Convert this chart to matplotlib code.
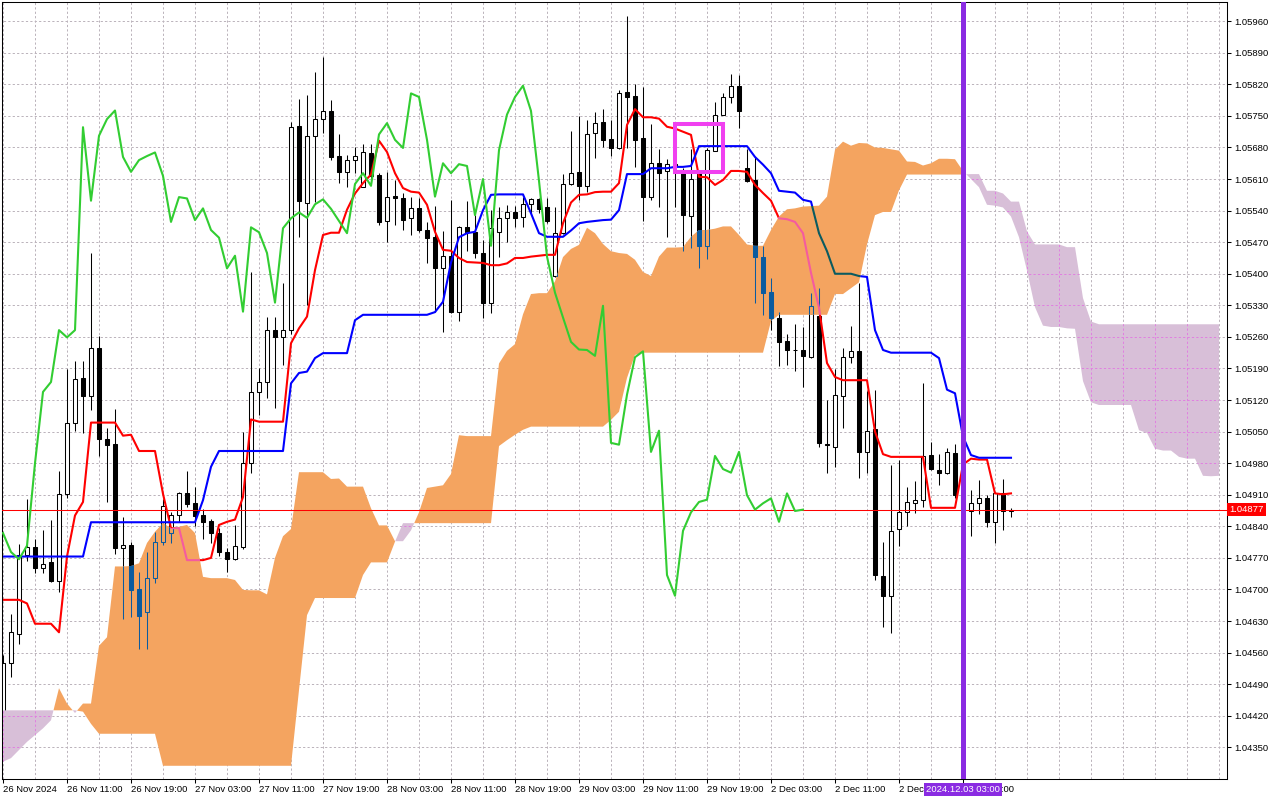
import numpy as np
import matplotlib
matplotlib.use('Agg')
import matplotlib.pyplot as plt
from matplotlib.path import Path
from matplotlib.patches import Rectangle
from matplotlib.transforms import blended_transform_factory

plt.rcParams['font.family'] = ['Liberation Sans', 'DejaVu Sans']

# ============================================================
# EURUSD H1, 26 Nov 2024 03:00 .. 3 Dec 2024 09:00 (one entry per bar)
# ============================================================
opens = [
    1.04347, 1.04538, 1.04601, 1.04777, 1.04794, 1.04747, 1.04760, 1.04718, 1.04911, 1.05069,
    1.05169, 1.05130, 1.05236, 1.05033, 1.05023, 1.04793, 1.04799, 1.04701, 1.04649, 1.04725,
    1.04805, 1.04825, 1.04865, 1.04913, 1.04891, 1.04865, 1.04852, 1.04825, 1.04783, 1.04767,
    1.04795, 1.04980, 1.05138, 1.05160, 1.05275, 1.05259, 1.05276, 1.05728, 1.05557, 1.05706,
    1.05743, 1.05762, 1.05661, 1.05626, 1.05652, 1.05593, 1.05667, 1.05619, 1.05517, 1.05573,
    1.05568, 1.05523, 1.05545, 1.05498, 1.05481, 1.05412, 1.05440, 1.05316, 1.05503, 1.05493,
    1.05446, 1.05336, 1.05492, 1.05523, 1.05536, 1.05526, 1.05554, 1.05565, 1.05548, 1.05395,
    1.05490, 1.05598, 1.05625, 1.05595, 1.05713, 1.05736, 1.05699, 1.05679, 1.05803, 1.05794,
    1.05702, 1.05571, 1.05645, 1.05628, 1.05643, 1.05630, 1.05528, 1.05623, 1.05462, 1.05673,
    1.05753, 1.05792, 1.05817, 1.05634, 1.05608, 1.05438, 1.05359, 1.05302, 1.05251, 1.05232,
    1.05232, 1.05216, 1.05307, 1.05023, 1.05016, 1.05129, 1.05215, 1.05228, 1.05005, 1.05055,
    1.04730, 1.04686, 1.04833, 1.04872, 1.04892, 1.04899, 1.04998, 1.04965, 1.04959, 1.05002,
    1.04909, 1.04874, 1.04891, 1.04902, 1.04850, 1.04913, 1.04874,
]
closes = [
    1.04538, 1.04605, 1.04777, 1.04794, 1.04747, 1.04757, 1.04718, 1.04911, 1.05069, 1.05167,
    1.05128, 1.05236, 1.05033, 1.05020, 1.04793, 1.04798, 1.04699, 1.04641, 1.04725, 1.04806,
    1.04885, 1.04865, 1.04913, 1.04889, 1.04863, 1.04850, 1.04825, 1.04783, 1.04767, 1.04797,
    1.04980, 1.05138, 1.05160, 1.05275, 1.05259, 1.05275, 1.05725, 1.05562, 1.05706, 1.05743,
    1.05762, 1.05659, 1.05626, 1.05652, 1.05661, 1.05669, 1.05617, 1.05515, 1.05570, 1.05567,
    1.05519, 1.05545, 1.05497, 1.05480, 1.05412, 1.05440, 1.05316, 1.05503, 1.05492, 1.05446,
    1.05336, 1.05501, 1.05523, 1.05536, 1.05524, 1.05554, 1.05565, 1.05544, 1.05517, 1.05490,
    1.05599, 1.05623, 1.05595, 1.05709, 1.05734, 1.05697, 1.05679, 1.05800, 1.05792, 1.05697,
    1.05571, 1.05645, 1.05623, 1.05643, 1.05639, 1.05530, 1.05610, 1.05462, 1.05674, 1.05753,
    1.05792, 1.05817, 1.05761, 1.05606, 1.05438, 1.05358, 1.05303, 1.05249, 1.05232, 1.05231,
    1.05218, 1.05329, 1.05025, 1.05021, 1.05132, 1.05215, 1.05228, 1.05005, 1.05052, 1.04732,
    1.04686, 1.04830, 1.04871, 1.04894, 1.04899, 1.04996, 1.04967, 1.04959, 1.05005, 1.04909,
    1.04877, 1.04891, 1.04902, 1.04850, 1.04913, 1.04874, 1.04877,
]
highs = [
    1.04555, 1.04646, 1.04800, 1.04901, 1.04812, 1.04832, 1.04854, 1.04963, 1.05188, 1.05207,
    1.05207, 1.05447, 1.05262, 1.05058, 1.05100, 1.04860, 1.04806, 1.04739, 1.04783, 1.04828,
    1.04900, 1.04872, 1.04915, 1.04963, 1.04927, 1.04878, 1.04856, 1.04836, 1.04792, 1.04843,
    1.05050, 1.05404, 1.05191, 1.05304, 1.05304, 1.05379, 1.05737, 1.05787, 1.05796, 1.05848,
    1.05880, 1.05785, 1.05710, 1.05664, 1.05681, 1.05688, 1.05688, 1.05623, 1.05626, 1.05608,
    1.05579, 1.05571, 1.05568, 1.05515, 1.05551, 1.05495, 1.05564, 1.05506, 1.05562, 1.05530,
    1.05475, 1.05541, 1.05549, 1.05553, 1.05551, 1.05571, 1.05568, 1.05569, 1.05568, 1.05549,
    1.05621, 1.05717, 1.05750, 1.05741, 1.05759, 1.05765, 1.05741, 1.05807, 1.05972, 1.05821,
    1.05814, 1.05731, 1.05676, 1.05654, 1.05652, 1.05634, 1.05676, 1.05630, 1.05679, 1.05780,
    1.05800, 1.05843, 1.05841, 1.05676, 1.05659, 1.05462, 1.05390, 1.05316, 1.05266, 1.05288,
    1.05282, 1.05358, 1.05368, 1.05121, 1.05188, 1.05235, 1.05284, 1.05380, 1.05140, 1.05143,
    1.04806, 1.04976, 1.04987, 1.04928, 1.04941, 1.05157, 1.05027, 1.05000, 1.05014, 1.05022,
    1.04925, 1.04920, 1.04943, 1.04909, 1.04916, 1.04945, 1.04880,
]
lows = [
    1.04340, 1.04506, 1.04579, 1.04762, 1.04736, 1.04736, 1.04716, 1.04695, 1.04903, 1.05052,
    1.05046, 1.05099, 1.04997, 1.04894, 1.04779, 1.04635, 1.04639, 1.04568, 1.04568, 1.04714,
    1.04799, 1.04803, 1.04850, 1.04883, 1.04841, 1.04811, 1.04803, 1.04774, 1.04739, 1.04765,
    1.04790, 1.04959, 1.05087, 1.05124, 1.05102, 1.05198, 1.05266, 1.05481, 1.05331, 1.05560,
    1.05712, 1.05652, 1.05602, 1.05592, 1.05623, 1.05592, 1.05601, 1.05508, 1.05471, 1.05508,
    1.05497, 1.05486, 1.05493, 1.05424, 1.05316, 1.05271, 1.05314, 1.05295, 1.05451, 1.05436,
    1.05302, 1.05313, 1.05438, 1.05471, 1.05503, 1.05504, 1.05534, 1.05534, 1.05512, 1.05393,
    1.05488, 1.05597, 1.05564, 1.05582, 1.05657, 1.05682, 1.05661, 1.05676, 1.05679, 1.05637,
    1.05517, 1.05564, 1.05549, 1.05481, 1.05549, 1.05451, 1.05457, 1.05412, 1.05433, 1.05672,
    1.05751, 1.05778, 1.05723, 1.05604, 1.05335, 1.05309, 1.05275, 1.05196, 1.05198, 1.05185,
    1.05149, 1.05213, 1.05016, 1.04958, 1.04972, 1.05058, 1.05202, 1.04947, 1.04959, 1.04721,
    1.04616, 1.04604, 1.04797, 1.04841, 1.04870, 1.04883, 1.04965, 1.04932, 1.04956, 1.04902,
    1.04862, 1.04819, 1.04867, 1.04839, 1.04804, 1.04832, 1.04861,
]

# Ichimoku lines
tenkan = [
    1.04677, 1.04677, 1.04677, 1.04669, 1.04624, 1.04624, 1.04624, 1.04605, 1.04773, 1.04864,
    1.04894, 1.05070, 1.05070, 1.05070, 1.05070, 1.05041, 1.05043, 1.05007, 1.05007, 1.05007,
    1.04912, 1.04836, 1.04836, 1.04765, 1.04765, 1.04765, 1.04770, 1.04843, 1.04850, 1.04855,
    1.04905, 1.05077, 1.05072, 1.05072, 1.05072, 1.05072, 1.05246, 1.05279, 1.05305, 1.05408,
    1.05486, 1.05491, 1.05491, 1.05542, 1.05578, 1.05601, 1.05620, 1.05695, 1.05670, 1.05623,
    1.05590, 1.05582, 1.05580, 1.05553, 1.05493, 1.05453, 1.05451, 1.05435, 1.05426, 1.05425,
    1.05424, 1.05419, 1.05419, 1.05423, 1.05435, 1.05435, 1.05438, 1.05440, 1.05442, 1.05442,
    1.05512, 1.05558, 1.05575, 1.05576, 1.05581, 1.05582, 1.05582, 1.05601, 1.05730, 1.05765,
    1.05747, 1.05747, 1.05744, 1.05726, 1.05722, 1.05715, 1.05708, 1.05615, 1.05614, 1.05597,
    1.05608, 1.05628, 1.05628, 1.05626, 1.05597, 1.05579, 1.05562, 1.05523, 1.05521, 1.05515,
    1.05490, 1.05402, 1.05325, 1.05202, 1.05171, 1.05164, 1.05164, 1.05164, 1.05164, 1.05050,
    1.05000, 1.04994, 1.04994, 1.04994, 1.04994, 1.04994, 1.04881, 1.04881, 1.04881, 1.04881,
    1.04977, 1.04990, 1.04988, 1.04988, 1.04913, 1.04911, 1.04913,
]
kijun = [
    1.04773, 1.04773, 1.04773, 1.04773, 1.04773, 1.04773, 1.04773, 1.04773, 1.04773, 1.04773,
    1.04773, 1.04849, 1.04849, 1.04849, 1.04849, 1.04849, 1.04849, 1.04849, 1.04849, 1.04849,
    1.04849, 1.04849, 1.04849, 1.04849, 1.04849, 1.04898, 1.04972, 1.05007, 1.05007, 1.05007,
    1.05007, 1.05007, 1.05007, 1.05007, 1.05007, 1.05007, 1.05157, 1.05180, 1.05183, 1.05213,
    1.05224, 1.05224, 1.05224, 1.05224, 1.05297, 1.05309, 1.05309, 1.05309, 1.05309, 1.05309,
    1.05309, 1.05309, 1.05309, 1.05309, 1.05315, 1.05338, 1.05425, 1.05481, 1.05490, 1.05493,
    1.05541, 1.05575, 1.05576, 1.05576, 1.05576, 1.05576, 1.05534, 1.05490, 1.05482, 1.05482,
    1.05482, 1.05496, 1.05512, 1.05515, 1.05517, 1.05519, 1.05520, 1.05541, 1.05621, 1.05621,
    1.05621, 1.05634, 1.05634, 1.05634, 1.05637, 1.05637, 1.05639, 1.05683, 1.05683, 1.05683,
    1.05683, 1.05683, 1.05683, 1.05683, 1.05659, 1.05642, 1.05623, 1.05584, 1.05582, 1.05580,
    1.05564, 1.05560, 1.05490, 1.05450, 1.05400, 1.05400, 1.05400, 1.05395, 1.05393, 1.05275,
    1.05231, 1.05225, 1.05225, 1.05225, 1.05225, 1.05225, 1.05225, 1.05213, 1.05143, 1.05135,
    1.05039, 1.04998, 1.04992, 1.04992, 1.04992, 1.04992, 1.04992,
]
# Senkou spans, already shifted forward (26 bars past the last candle)
span_a = [
    1.04318, 1.04326, 1.04344, 1.04362, 1.04377, 1.04392, 1.04410, 1.04481, 1.04447, 1.04426,
    1.04447, 1.04447, 1.04575, 1.04594, 1.04751, 1.04751, 1.04752, 1.04758, 1.04803, 1.04828,
    1.04847, 1.04836, 1.04839, 1.04843, 1.04825, 1.04728, 1.04725, 1.04725, 1.04725, 1.04721,
    1.04699, 1.04698, 1.04698, 1.04689, 1.04770, 1.04818, 1.04834, 1.04960, 1.04960, 1.04960,
    1.04960, 1.04945, 1.04946, 1.04928, 1.04928, 1.04928, 1.04880, 1.04842, 1.04842, 1.04807,
    1.04807, 1.04831, 1.04871, 1.04925, 1.04928, 1.04931, 1.04956, 1.05042, 1.05040, 1.05040,
    1.05040, 1.05040, 1.05201, 1.05229, 1.05244, 1.05310, 1.05355, 1.05357, 1.05357, 1.05383,
    1.05437, 1.05455, 1.05464, 1.05502, 1.05490, 1.05466, 1.05450, 1.05446, 1.05444, 1.05431,
    1.05404, 1.05395, 1.05438, 1.05458, 1.05458, 1.05459, 1.05482, 1.05497, 1.05497, 1.05500,
    1.05505, 1.05505, 1.05486, 1.05465, 1.05462, 1.05462, 1.05497, 1.05527, 1.05543, 1.05545,
    1.05549, 1.05550, 1.05551, 1.05571, 1.05675, 1.05693, 1.05684, 1.05690, 1.05689, 1.05680,
    1.05679, 1.05676, 1.05673, 1.05649, 1.05648, 1.05640, 1.05645, 1.05655, 1.05655, 1.05654,
    1.05628, 1.05610, 1.05592, 1.05553, 1.05551, 1.05547, 1.05527, 1.05481, 1.05407, 1.05326,
    1.05285, 1.05282, 1.05282, 1.05279, 1.05278, 1.05162, 1.05115, 1.05109, 1.05109, 1.05109,
    1.05109, 1.05109, 1.05053, 1.05047, 1.05012, 1.05008, 1.05008, 1.04994, 1.04990, 1.04990,
    1.04952, 1.04951, 1.04952,
]
span_b = [
    1.04432, 1.04432, 1.04432, 1.04432, 1.04432, 1.04432, 1.04432, 1.04432, 1.04432, 1.04432,
    1.04429, 1.04402, 1.04380, 1.04380, 1.04380, 1.04380, 1.04380, 1.04380, 1.04380, 1.04380,
    1.04309, 1.04309, 1.04309, 1.04309, 1.04309, 1.04309, 1.04309, 1.04309, 1.04309, 1.04309,
    1.04309, 1.04309, 1.04309, 1.04309, 1.04309, 1.04309, 1.04309, 1.04477, 1.04643, 1.04681,
    1.04681, 1.04681, 1.04681, 1.04681, 1.04681, 1.04732, 1.04760, 1.04760, 1.04760, 1.04806,
    1.04847, 1.04847, 1.04847, 1.04847, 1.04847, 1.04847, 1.04847, 1.04847, 1.04847, 1.04847,
    1.04847, 1.04847, 1.05018, 1.05031, 1.05043, 1.05054, 1.05061, 1.05061, 1.05061, 1.05061,
    1.05061, 1.05061, 1.05061, 1.05061, 1.05061, 1.05061, 1.05076, 1.05094, 1.05169, 1.05220,
    1.05225, 1.05225, 1.05225, 1.05225, 1.05225, 1.05225, 1.05225, 1.05225, 1.05225, 1.05225,
    1.05225, 1.05225, 1.05225, 1.05225, 1.05225, 1.05225, 1.05295, 1.05309, 1.05309, 1.05309,
    1.05309, 1.05309, 1.05309, 1.05309, 1.05355, 1.05355, 1.05368, 1.05381, 1.05465, 1.05530,
    1.05537, 1.05537, 1.05585, 1.05620, 1.05620, 1.05620, 1.05620, 1.05620, 1.05620, 1.05620,
    1.05620, 1.05621, 1.05621, 1.05584, 1.05584, 1.05578, 1.05560, 1.05560, 1.05494, 1.05465,
    1.05465, 1.05465, 1.05465, 1.05459, 1.05459, 1.05346, 1.05294, 1.05288, 1.05288, 1.05288,
    1.05288, 1.05288, 1.05288, 1.05288, 1.05288, 1.05288, 1.05288, 1.05288, 1.05288, 1.05288,
    1.05288, 1.05288, 1.05288,
]

tick_bars = [0, 8, 16, 24, 32, 40, 48, 56, 64, 72, 80, 88, 96, 104, 112, 120]
tick_labels = [
    "26 Nov 2024", "26 Nov 11:00", "26 Nov 19:00", "27 Nov 03:00", "27 Nov 11:00",
    "27 Nov 19:00", "28 Nov 03:00", "28 Nov 11:00", "28 Nov 19:00", "29 Nov 03:00",
    "29 Nov 11:00", "29 Nov 19:00", "2 Dec 03:00", "2 Dec 11:00", "2 Dec 19:00", "3 Dec 03:00",
]
price_ticks = np.round(np.arange(1.04350, 1.05961, 0.0007), 5)

marker_bar = 120                 # vertical marker line
marker_text = "2024.12.03 03:00"
box_bars = (84, 90)              # highlight box (bars) and its price range
box_prices = (1.05626, 1.05731)
chikou_shift = 26

# ============================================================
o = np.array(opens)
c = np.array(closes)
h = np.array(highs)
l = np.array(lows)
sa = np.array(span_a)
sb = np.array(span_b)
x = np.arange(len(o))
xf = np.arange(len(sa))

ORANGE = '#f4a460'
THISTLE = '#d8bfd8'
GRID = '#bcb4bc'
dash = (0, (2.2, 2.2))

fig = plt.figure(figsize=(12.8, 8), dpi=100)
ax = fig.add_axes([2 / 1280, 21 / 800, 1225 / 1280, 777 / 800])
ax.set_xlim(-0.125, 153)
ax.set_ylim(1.042797, 1.060026)
ymin, ymax = ax.get_ylim()
grid_x = np.arange(0, 153, 4)


def draw_grid(color, z):
    g1 = ax.hlines(price_ticks, -1, 154, colors=color, lw=0.72, linestyles=dash, zorder=z)
    g2 = ax.vlines(grid_x, ymin, ymax, colors=color, lw=0.72, linestyles=dash, zorder=z)
    return [g1, g2]


def draw_candles(bull, bear, edge, z):
    wicks = ax.vlines(x, l, h, colors=edge, lw=0.75, zorder=z)
    faces = [bull if cc >= oo else bear for oo, cc in zip(o, c)]
    bodies = ax.bar(x, np.abs(c - o), width=0.6, bottom=np.minimum(o, c),
                    color=faces, edgecolor=edge, linewidth=0.75, zorder=z + 0.05)
    return [wicks] + list(bodies.patches)


def draw_lines(red, blue, z):
    t, = ax.plot(x, tenkan, color=red, lw=1.5, zorder=z)
    k, = ax.plot(x, kijun, color=blue, lw=1.5, zorder=z)
    return [t, k]


draw_grid(GRID, 0.5)
draw_candles('white', 'black', 'black', 2)
draw_lines('#ff0000', '#0000ff', 2.5)

# cloud
up = ax.fill_between(xf, sa, sb, where=sa >= sb, interpolate=True, color=ORANGE, lw=0, zorder=3)
dn = ax.fill_between(xf, sa, sb, where=sa < sb, interpolate=True, color=THISTLE, lw=0, zorder=3)
clip_up = Path.make_compound_path(*up.get_paths())
clip_dn = Path.make_compound_path(*dn.get_paths())

# the terminal paints the cloud in XOR mode: redraw what lies under it
for art in draw_candles(ORANGE, '#0b5b9f', '#0b5b9f', 3.1) + draw_lines('#f45b9f', '#0b5b60', 3.2):
    art.set_clip_path(clip_up, ax.transData)
for art in draw_grid('#e080e0', 3.1):
    art.set_clip_path(clip_dn, ax.transData)

# chikou span
ax.plot(x[:len(c) - chikou_shift], c[chikou_shift:], color='#32cd32', lw=1.5, zorder=6)

# bid line and marker line
ax.axhline(c[-1], color='#ff0000', lw=0.75, zorder=5)
ax.axvline(marker_bar, color='#8a2be2', lw=3.6, zorder=7)
ax.add_patch(Rectangle((box_bars[0], box_prices[0]), box_bars[1] - box_bars[0],
                       box_prices[1] - box_prices[0], fill=False,
                       edgecolor='#f040f0', lw=2.9, zorder=8))

# axes
for sp in ax.spines.values():
    sp.set_linewidth(0.75)
    sp.set_color('black')
ax.yaxis.tick_right()
ax.set_yticks(price_ticks)
ax.set_yticklabels([f"{p:.5f}" for p in price_ticks])
ax.set_xticks(tick_bars)
ax.set_xticklabels(tick_labels, ha='left')
ax.tick_params(axis='y', direction='out', length=3, width=0.75, pad=2, labelsize=6.8)
ax.tick_params(axis='x', direction='out', length=3, width=0.75, pad=1.5, labelsize=6.8)

ty = blended_transform_factory(ax.transAxes, ax.transData)
ax.text(1 + 2 / 1225, c[-1], f"{c[-1]:.5f}", transform=ty, ha='left', va='center',
        color='white', fontsize=6.8, clip_on=False, zorder=10,
        bbox=dict(boxstyle='square,pad=0.25', fc='#ff0000', ec='none'))
tx = blended_transform_factory(ax.transData, ax.transAxes)
ax.text(marker_bar, -10.5 / 777, marker_text, transform=tx, ha='center', va='center',
        color='white', fontsize=6.8, clip_on=False, zorder=10,
        bbox=dict(boxstyle='square,pad=0.25', fc='#8a2be2', ec='none'))

fig.savefig('out.png', dpi=100, facecolor='white')
